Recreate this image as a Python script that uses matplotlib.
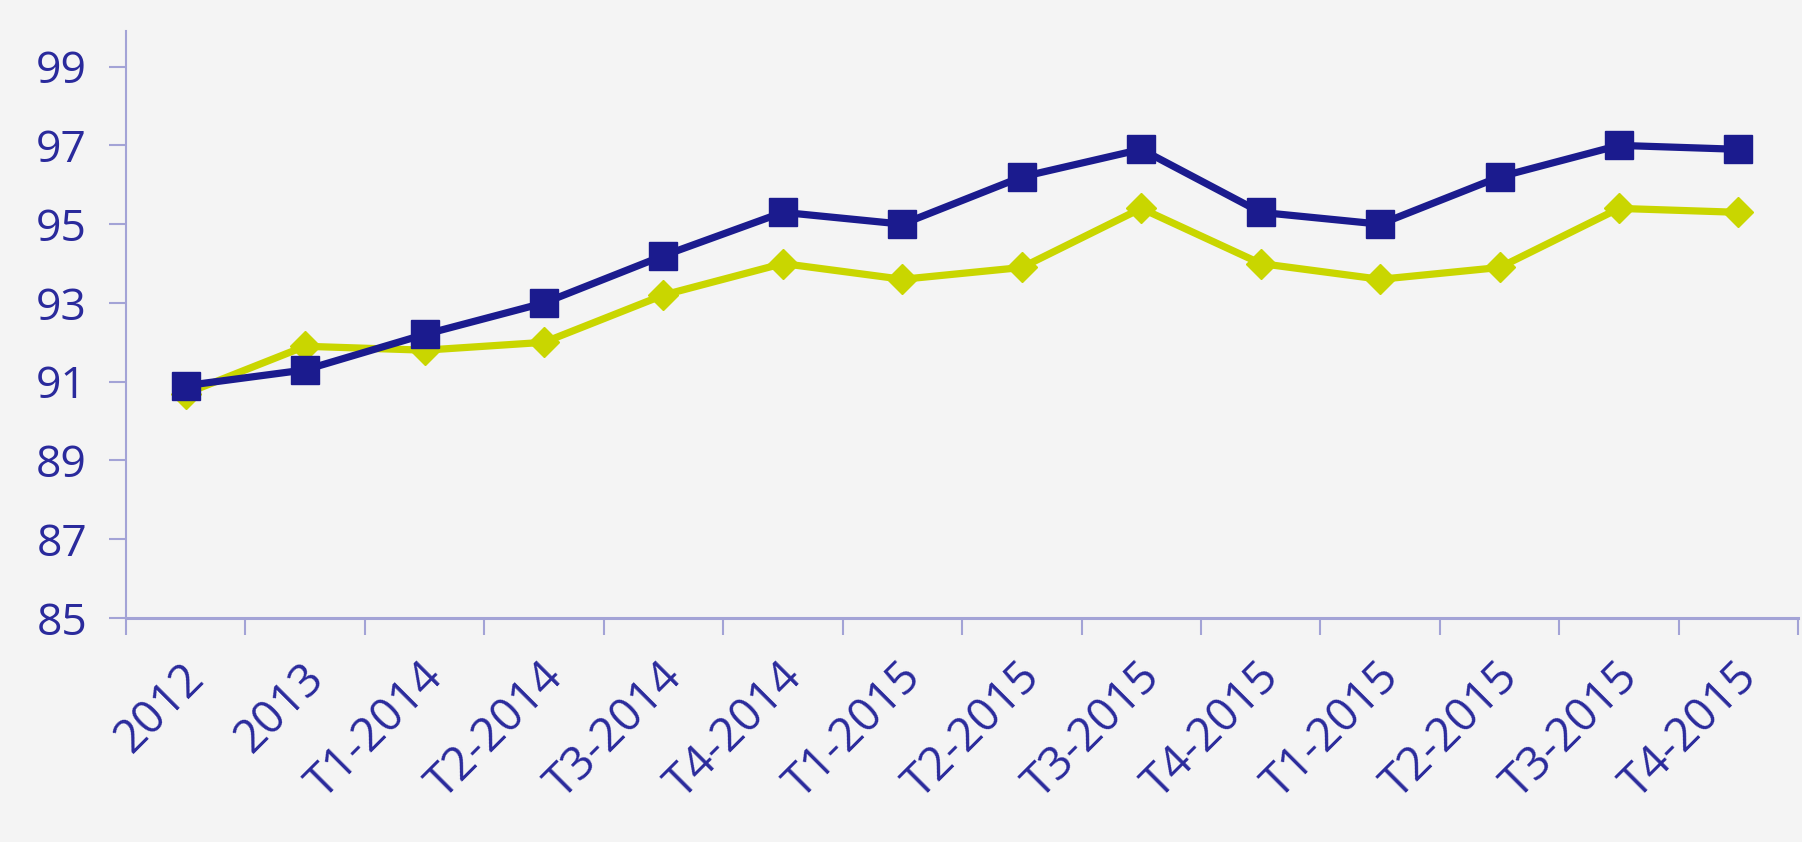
import matplotlib.pyplot as plt
import matplotlib.transforms as mtransforms
import numpy as np

labels = ["2012", "2013", "T1-2014", "T2-2014", "T3-2014", "T4-2014",
          "T1-2015", "T2-2015", "T3-2015", "T4-2015",
          "T1-2015", "T2-2015", "T3-2015", "T4-2015"]
serie_bleue = [90.9, 91.3, 92.2, 93.0, 94.2, 95.3, 95.0, 96.2, 96.9,
               95.3, 95.0, 96.2, 97.0, 96.9]
serie_verte = [90.7, 91.9, 91.8, 92.0, 93.2, 94.0, 93.6, 93.9, 95.4,
               94.0, 93.6, 93.9, 95.4, 95.3]
yticks = [85, 87, 89, 91, 93, 95, 97, 99]

bleu = "#1b1b8e"
vert = "#c9d600"
axe = "#a3a3d6"
texte = "#2a2a9c"
fond = "#f4f4f4"

plt.rcParams["font.family"] = ["Open Sans", "DejaVu Sans"]

fig = plt.figure(figsize=(18.02, 8.42), dpi=100, facecolor=fond)
ax = fig.add_axes([0.0699, 0.266, 0.928, 0.697])
ax.set_facecolor("none")

x = np.arange(len(labels))
ax.plot(x, serie_verte, color=vert, lw=5.2, marker="D", ms=15, zorder=3)
ax.plot(x, serie_bleue, color=bleu, lw=5.2, marker="s", ms=20, zorder=4)

ax.set_xlim(-0.5, len(labels) - 0.5)
ax.set_ylim(85, 99.9)
ax.set_yticks(yticks)
ax.set_yticklabels([str(v) for v in yticks], color=texte, fontsize=32)
ax.set_xticks(x)
ax.set_xticklabels(labels, rotation=45, ha="right", va="center",
                   rotation_mode="anchor", color=texte, fontsize=33)
ax.set_xticks(np.arange(len(labels) + 1) - 0.5, minor=True)
ax.tick_params(axis="x", which="major", length=0, pad=38)
ax.tick_params(axis="x", which="minor", length=12, width=1.5, color=axe)
ax.tick_params(axis="y", length=12, width=1.5, color=axe, pad=16)

# petit decalage des etiquettes vers la droite
decal = mtransforms.ScaledTranslation(12 / 100, 0, fig.dpi_scale_trans)
for lab in ax.get_xticklabels():
    lab.set_transform(lab.get_transform() + decal)

for s in ["top", "right"]:
    ax.spines[s].set_visible(False)
ax.spines["left"].set_color(axe)
ax.spines["left"].set_linewidth(1.5)
ax.spines["bottom"].set_color(axe)
ax.spines["bottom"].set_linewidth(2.2)

fig.savefig("out.png", dpi=100, facecolor=fond)
